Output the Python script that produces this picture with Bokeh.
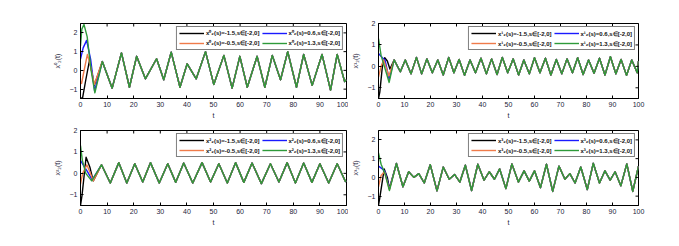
import math
from bokeh.plotting import figure
from bokeh.layouts import gridplot
from bokeh.models import Legend, LegendItem, FixedTicker, Range1d
from bokeh.embed import file_html
from bokeh.resources import INLINE

X_TICKS = [0, 10, 20, 30, 40, 50, 60, 70, 80, 90, 100]
Y_TICKS = [-1, 0, 1, 2]
INIT_VALUES = ["-1.5", "0.6", "-0.5", "1.3"]

# ---------------- panel 1 : x_2^0 ----------------
P1_BLACK_T = [0, 0.8, 2.0, 3.4, 5.2]
P1_BLACK_V = [-1.5, -1.45, -0.5, 0.55, -0.8]
P1_BLUE_T = [0, 1.0, 2.3, 3.8, 5.3]
P1_BLUE_V = [0.6, 1.2, 1.6, 0.6, -1.1]
P1_ORANGE_T = [0, 0.4, 1.5, 2.6, 3.8, 5.2]
P1_ORANGE_V = [-0.6, -0.7, 0.1, 0.85, 0.2, -0.75]
P1_GREEN_T = [0, 0.5, 1.3, 2.5, 4.0, 5.4]
P1_GREEN_V = [1.3, 2.2, 2.45, 1.8, 0.0, -1.2]
P1_TAIL_T = [8.2, 11.9, 15.4, 18.4, 21.1, 24.4, 28.6, 31.3, 34.1, 37.4, 40.1, 43.5,
             47.0, 50.1, 53.9, 57.0, 59.9, 62.7, 66.4, 69.3, 72.1, 75.2, 77.9, 81.2,
             83.9, 87.1, 90.8, 94.0, 96.5, 99.3, 100]
P1_TAIL_V = [0.47, -0.95, 0.93, -0.9, 0.75, -0.45, 0.62, -0.5, 0.97, -0.9, 0.35, -0.45,
             1.0, -0.75, 0.8, -0.95, 0.75, -0.9, 0.75, -0.9, 0.8, -0.5, 1.0, -0.9,
             0.85, -0.8, 0.85, -1.05, 0.85, -0.6, -0.5]

# ---------------- panel 2 : x_2^1 ----------------
P2_BLACK_T = [0, 0.5, 1.5, 2.4, 3.4, 4.4]
P2_BLACK_V = [-1.5, -1.2, 0.0, 0.4, 0.25, -0.12]
P2_BLUE_T = [0, 1.5, 2.5, 4.1]
P2_BLUE_V = [0.6, 0.4, 0.3, -0.6]
P2_ORANGE_T = [0, 1.0, 2.0, 4.0]
P2_ORANGE_V = [-0.5, 0.0, 0.3, -0.45]
P2_GREEN_T = [0, 1.0, 2.5, 4.1]
P2_GREEN_V = [1.3, 0.5, -0.1, -0.75]
P2_TAIL_T = [6.0, 8.4, 10.3, 12.5, 14.6, 16.6, 18.6, 20.7, 22.8, 24.9, 27.0, 29.0,
             31.0, 33.1, 35.2, 37.3, 39.4, 41.5, 43.5, 45.6, 47.6, 49.7, 51.8, 53.9,
             55.9, 58.0, 60.0, 62.1, 64.2, 66.3, 68.4, 70.5, 72.5, 74.6, 76.6, 78.7,
             80.8, 82.9, 85.0, 87.1, 89.2, 91.3, 93.3, 95.4, 97.4, 99.5, 100]
P2_TAIL_V = [0.3, -0.25, 0.3, -0.35, 0.42, -0.35, 0.35, -0.3, 0.3, -0.4, 0.42, -0.3,
             0.32, -0.42, 0.3, -0.3, 0.38, -0.35, 0.35, -0.38, 0.42, -0.3, 0.35, -0.4,
             0.3, -0.35, 0.4, -0.3, 0.38, -0.4, 0.32, -0.35, 0.35, -0.3, 0.4, -0.38,
             0.3, -0.32, 0.38, -0.4, 0.45, -0.35, 0.32, -0.42, 0.3, -0.3, 0.25]

# ---------------- panel 3 : x_2^2 ----------------
P3_BLACK_T = [0, 0.6, 2.1, 3.5, 4.8]
P3_BLACK_V = [-1.5, -1.0, 0.75, 0.3, -0.35]
P3_BLUE_T = [0, 1.0, 2.5, 4.4]
P3_BLUE_V = [0.6, 0.4, 0.1, -0.3]
P3_ORANGE_T = [0, 0.8, 2.4, 3.4, 4.8]
P3_ORANGE_V = [-0.5, 0.0, 0.4, 0.1, -0.35]
P3_GREEN_T = [0, 0.7, 2.0, 4.2]
P3_GREEN_V = [1.3, 0.6, 0.0, -0.35]
P3_TAIL_T = [7.9, 11.2, 14.4, 17.4, 20.4, 23.4, 26.3, 29.6, 32.8, 35.8, 38.8, 42.2,
             45.7, 48.9, 52.0, 55.2, 58.3, 61.4, 64.5, 68.0, 71.4, 74.6, 77.7, 80.8,
             83.9, 87.0, 90.0, 93.3, 96.5, 99.6, 100]
P3_TAIL_V = [0.4, -0.45, 0.5, -0.45, 0.45, -0.4, 0.5, -0.45, 0.45, -0.42, 0.48, -0.45,
             0.5, -0.4, 0.45, -0.45, 0.5, -0.42, 0.48, -0.48, 0.45, -0.4, 0.5, -0.45,
             0.48, -0.42, 0.45, -0.45, 0.45, -0.38, -0.35]

# ---------------- panel 4 : x_2^3 ----------------
P4_BLACK_T = [0, 0.6, 2.2, 3.4, 4.2]
P4_BLACK_V = [-1.5, -1.0, 0.45, 0.0, -0.6]
P4_BLUE_T = [0, 1.5, 2.5, 4.2]
P4_BLUE_V = [0.6, 0.45, 0.3, -0.6]
P4_ORANGE_T = [0, 1.0, 2.3, 4.2]
P4_ORANGE_V = [-0.5, 0.1, 0.3, -0.65]
P4_GREEN_T = [0, 1.0, 2.5, 4.2]
P4_GREEN_V = [1.3, 0.7, 0.2, -0.7]
P4_TAIL_T = [6.9, 9.4, 11.6, 13.6, 15.5, 17.6, 19.9, 22.5, 24.9, 27.2, 29.3, 31.3,
             33.4, 35.8, 38.2, 40.6, 42.6, 44.6, 46.6, 49.0, 51.3, 53.8, 56.0, 58.0,
             60.0, 62.3, 64.6, 67.0, 69.4, 71.7, 73.6, 75.6, 77.8, 80.3, 82.6, 85.0,
             87.1, 89.1, 91.0, 93.2, 95.5, 97.8, 100]
P4_TAIL_V = [0.74, -0.5, 0.3, 0.0, 0.2, -0.3, 0.68, -0.72, 0.55, -0.1, 0.15, -0.25,
             0.65, -0.7, 0.7, -0.15, 0.3, -0.1, 0.45, -0.6, 0.72, -0.25, 0.35, -0.2,
             0.35, -0.55, 0.7, -0.75, 0.6, -0.1, 0.2, -0.3, 0.55, -0.65, 0.75, -0.3,
             0.35, -0.15, 0.3, -0.45, 0.72, -0.75, 0.6]

COLORS = ["#000000", "#1a1aff", "#ef7b4a", "#2e9a3a"]
FONT = "Liberation Sans"
SUP = {"0": "\u2070", "1": "\u00b9", "2": "\u00b2", "3": "\u00b3"}
TXT = "#1c1c3a"


def make_panel(idx, series, tail_t, tail_v, y_lo, y_hi, width, height,
               b_left, b_right, b_top, b_bottom):
    p = figure(width=width, height=height, output_backend="svg", toolbar_location=None,
               x_range=Range1d(0, 100), y_range=Range1d(y_lo, y_hi),
               min_border_left=b_left, min_border_right=b_right,
               min_border_top=b_top, min_border_bottom=b_bottom)
    p.xgrid.visible = False
    p.ygrid.visible = False
    p.outline_line_color = "black"
    p.outline_line_width = 1
    p.background_fill_color = "white"
    p.border_fill_color = "white"

    sup = SUP[str(idx)]
    renderers = []
    for (ts, vs), c in zip(series, COLORS):
        r = p.line(ts + tail_t, vs + tail_v, line_color=c, line_width=1.4,
                   line_join="round")
        renderers.append(r)

    # inward ticks on the top and right edges of the box
    p.scatter(X_TICKS, [y_hi] * len(X_TICKS), marker="dash", angle=math.pi / 2,
              size=6, line_color="black", line_width=1)
    p.scatter([100] * len(Y_TICKS), Y_TICKS, marker="dash", size=6,
              line_color="black", line_width=1)

    for ax in (p.xaxis[0], p.yaxis[0]):
        ax.major_tick_in = 3
        ax.major_tick_out = 0
        ax.minor_tick_line_color = None
        ax.axis_line_color = "black"
        ax.major_tick_line_color = "black"
        ax.major_label_text_font = FONT
        ax.major_label_text_font_size = "7px"
        ax.major_label_text_color = TXT
        ax.axis_label_text_font = FONT
        ax.axis_label_text_font_size = "7px"
        ax.axis_label_text_font_style = "normal"
        ax.axis_label_text_color = TXT
    p.xaxis.ticker = FixedTicker(ticks=X_TICKS)
    p.yaxis.ticker = FixedTicker(ticks=Y_TICKS)
    p.xaxis.axis_label = "t"
    p.xaxis.axis_label_standoff = 2
    p.xaxis.major_label_standoff = 3
    p.yaxis.axis_label = "x" + sup + "\u2082(t)"
    p.yaxis.axis_label_standoff = 6
    p.yaxis.major_label_standoff = 3

    labels = ["x" + sup + "\u2082(s)=" + iv + ",s\u2208[-2,0]" for iv in INIT_VALUES]
    order = [0, 2, 1, 3]
    items = [LegendItem(label=labels[k], renderers=[renderers[k]]) for k in order]
    leg = Legend(items=items, location="top_right", orientation="vertical", ncols=2,
                 label_text_font=FONT, label_text_font_size="6px",
                 label_text_font_style="bold", label_text_color="#111111",
                 glyph_width=25, glyph_height=8,
                 label_height=8, label_standoff=2, spacing=2, padding=2, margin=3,
                 border_line_color="black", border_line_width=0.8,
                 background_fill_color="white", background_fill_alpha=1)
    p.add_layout(leg)
    return p


p1 = make_panel(0, [(P1_BLACK_T, P1_BLACK_V), (P1_BLUE_T, P1_BLUE_V),
                    (P1_ORANGE_T, P1_ORANGE_V), (P1_GREEN_T, P1_GREEN_V)],
                P1_TAIL_T, P1_TAIL_V, -1.5, 2.5, 348, 121, 80, 2, 22, 22)
p2 = make_panel(1, [(P2_BLACK_T, P2_BLACK_V), (P2_BLUE_T, P2_BLUE_V),
                    (P2_ORANGE_T, P2_ORANGE_V), (P2_GREEN_T, P2_GREEN_V)],
                P2_TAIL_T, P2_TAIL_V, -1.5, 2.0, 320, 121, 29, 30, 23, 23)
p3 = make_panel(2, [(P3_BLACK_T, P3_BLACK_V), (P3_BLUE_T, P3_BLUE_V),
                    (P3_ORANGE_T, P3_ORANGE_V), (P3_GREEN_T, P3_GREEN_V)],
                P3_TAIL_T, P3_TAIL_V, -1.5, 2.0, 348, 107, 80, 2, 9, 22)
p4 = make_panel(3, [(P4_BLACK_T, P4_BLACK_V), (P4_BLUE_T, P4_BLUE_V),
                    (P4_ORANGE_T, P4_ORANGE_V), (P4_GREEN_T, P4_GREEN_V)],
                P4_TAIL_T, P4_TAIL_V, -1.5, 2.5, 320, 107, 29, 30, 9, 22)

grid = gridplot([[p1, p2], [p3, p4]], toolbar_location=None)
open("out.html", "w").write(file_html(grid, INLINE))
